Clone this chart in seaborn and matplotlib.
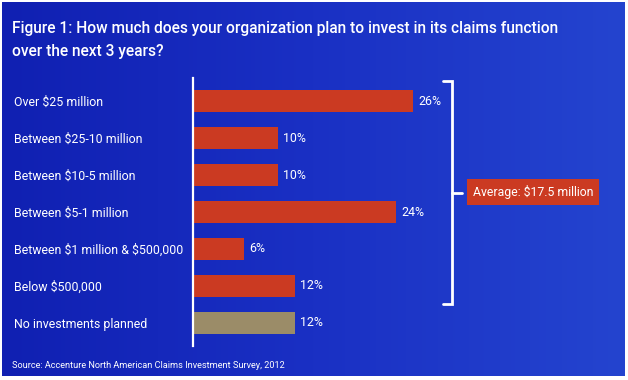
import numpy as np
import pandas as pd
import matplotlib.pyplot as plt
import seaborn as sns

categories = ["Over $25 million", "Between $25-10 million", "Between $10-5 million",
              "Between $5-1 million", "Between $1 million & $500,000",
              "Below $500,000", "No investments planned"]
values = [26, 10, 10, 24, 6, 12, 12]
bar_colors = ["#cb3a22"] * 6 + ["#9b8c68"]

title = ("Figure 1: How much does your organization plan to invest in its claims function\n"
         "over the next 3 years?")
source = "Source: Accenture North American Claims Investment Survey, 2012"
average_text = "Average: $17.5 million"

sns.set_theme(style="white")
plt.rcParams["font.family"] = ["Roboto", "DejaVu Sans"]
plt.rcParams["text.parse_math"] = False

W, H = 628, 380
fig = plt.figure(figsize=(W / 100, H / 100), dpi=100)
fig.patch.set_facecolor("white")

# blue gradient background
bg = fig.add_axes([0.003, 0.01, 0.992, 0.985])
grad = np.linspace(0, 1, 256)[None, :]
cmap = sns.blend_palette(["#1020b2", "#1a30c4", "#2444cf"], as_cmap=True)
bg.imshow(grad, aspect="auto", cmap=cmap, extent=[0, 1, 0, 1])
bg.set_axis_off()

df = pd.DataFrame({"cat": categories, "val": values})

x0, x1 = 193 / W, 600 / W
y_top, y_bot = 1 - 78 / H, 1 - 346 / H
ax = fig.add_axes([x0, y_bot, x1 - x0, y_top - y_bot])
ax.patch.set_alpha(0)
scale = 220 / 26  # px per percent
xmax = (600 - 193) / scale

sns.barplot(data=df, y="cat", x="val", hue="cat", palette=bar_colors, saturation=1,
            orient="h", width=0.6, legend=False, ax=ax, linewidth=0)
ax.set_xlim(0, xmax)
ax.set_ylim(6.63, -0.63)
ax.set_xlabel("")
ax.set_ylabel("")
ax.set_xticks([])
for s in ["top", "right", "bottom"]:
    ax.spines[s].set_visible(False)
ax.spines["left"].set_color("white")
ax.spines["left"].set_linewidth(1.6)
ax.tick_params(axis="y", length=0, pad=129, colors="white", labelsize=8.9)
for lab in ax.get_yticklabels():
    lab.set_ha("left")

for i, v in enumerate(values):
    ax.text(v + 0.6, i, f"{v}%", color="white", va="center", ha="left", fontsize=8.9)

# bracket
bx = (452 - 193) / scale
tick = 9 / scale
ax.plot([bx - tick, bx, bx, bx - tick], [-0.56, -0.56, 5.5, 5.5],
        color="white", lw=2, clip_on=False, solid_joinstyle="miter")
ax.plot([bx, bx + 10 / scale], [2.48, 2.48], color="white", lw=2, clip_on=False)

fig.text(533 / W, 1 - 192 / H, average_text, color="white", fontsize=8.8,
         ha="center", va="center",
         bbox=dict(boxstyle="square,pad=0.5", fc="#cb3a22", ec="none"))

fig.text(12 / W, 1 - 40 / H, title, color="white", fontsize=11.2, fontweight="medium",
         ha="left", va="center", linespacing=1.7)
fig.text(12 / W, 1 - 366 / H, source, color="white", fontsize=6.6, ha="left", va="center")

fig.savefig("out.png", dpi=100, facecolor=fig.get_facecolor())
